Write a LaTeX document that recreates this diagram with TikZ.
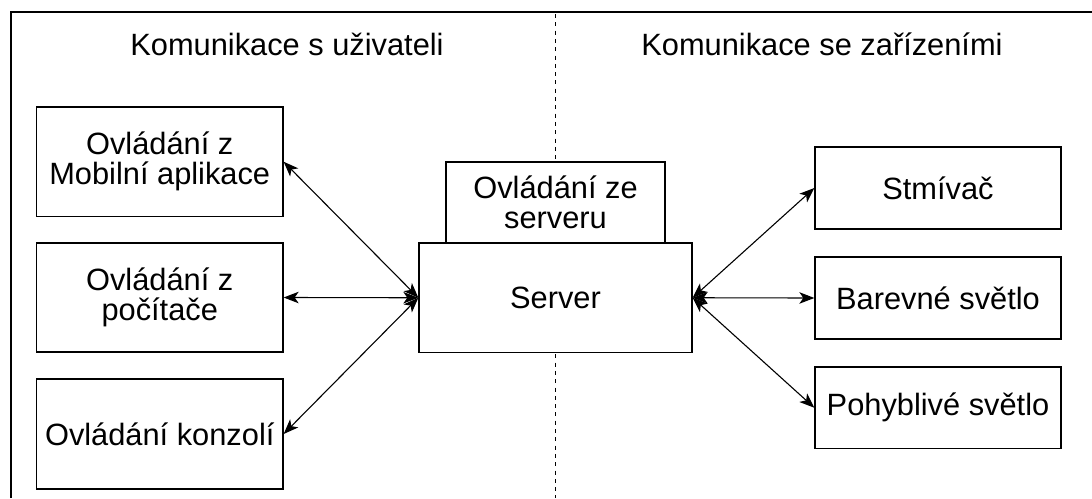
\documentclass[tikz,border=0pt]{standalone}
\usepackage{fontspec}
\setmainfont{Liberation Sans}
\usetikzlibrary{arrows.meta}
\begin{document}
\begin{tikzpicture}[x=1pt,y=-1pt,
  every node/.style={font=\fontsize{30.8}{30}\selectfont},
  box/.style={draw=black,line width=1.3pt,fill=white,rectangle,inner sep=0pt,align=center},
  link/.style={line width=1.1pt,{Stealth[length=15pt 0,width=11.5pt 0,inset=4pt 0]}-{Stealth[length=15pt 0,width=11.5pt 0,inset=4pt 0]}},
  divider/.style={line width=1pt,dash pattern=on 4pt off 4.3pt},
  frame/.style={line width=1.5pt}]
\useasboundingbox (0,0) rectangle (1092,498);
% frame (only top and left edges visible)
\coordinate (fbl) at (11,498);
\coordinate (ftl) at (11,12);
\coordinate (ftr) at (1092,12);
\draw[frame] (fbl) -- (ftl) -- (ftr);
% divider
\coordinate (dtop) at (555.5,14);
\coordinate (dbot) at (555.5,498);
\draw[divider] (dtop) -- (dbot);
% headers
\node[anchor=base] (h1) at (287,55) {Komunikace s uživateli};
\node[anchor=base] (h2) at (822,55) {Komunikace se zařízeními};
% left boxes
\node[box,minimum width=246.5pt,minimum height=109.5pt] (m1) at (159.75,161.75) {Ovládání z\\Mobilní aplikace};
\node[box,minimum width=246.5pt,minimum height=109pt] (m2) at (159.75,297.5) {Ovládání z\\počítače};
\node[box,minimum width=246.5pt,minimum height=110pt] (m3) at (159.75,434) {Ovládání konzolí};
% server
\node[box,minimum width=219pt,minimum height=81pt] (srvtop) at (555.5,202.5) {Ovládání ze\\serveru};
\node[box,minimum width=273pt,minimum height=109.5pt] (srv) at (555.5,297.75) {Server};
% right boxes
\node[box,minimum width=246pt,minimum height=82pt] (s1) at (938,188) {Stmívač};
\node[box,minimum width=246pt,minimum height=82pt] (s2) at (938,298) {Barevné světlo};
\node[box,minimum width=246pt,minimum height=81.5pt] (s3) at (938,407.75) {Pohyblivé světlo};
% connectors
\draw[link] (m1.east) -- (srv.west);
\draw[link] (m2.east) -- (srv.west);
\draw[link] (m3.east) -- (srv.west);
\draw[link] (srv.east) -- (s1.west);
\draw[link] (srv.east) -- (s2.west);
\draw[link] (srv.east) -- (s3.west);
\end{tikzpicture}
\end{document}
